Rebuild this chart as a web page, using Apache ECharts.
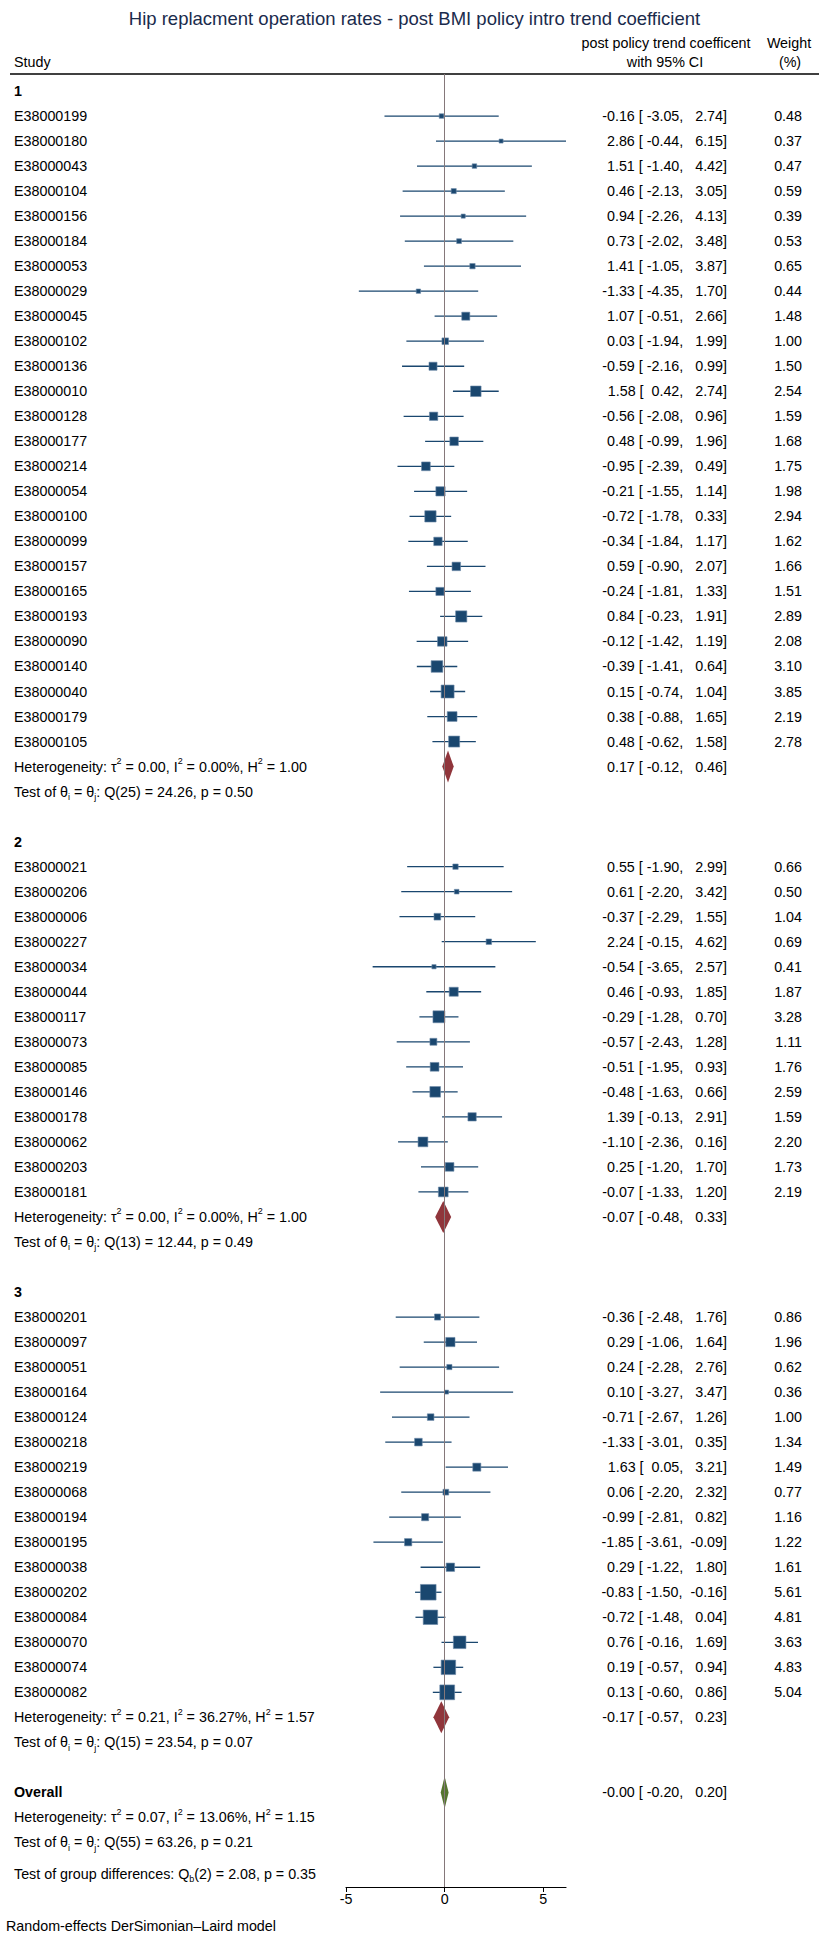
<!DOCTYPE html>
<html>
<head>
<meta charset="utf-8">
<script src="https://cdn.jsdelivr.net/npm/echarts@6/dist/echarts.min.js"></script>
<style>
  html, body { margin: 0; padding: 0; background: #fff; }
  #chart { width: 829px; height: 1938px; }
</style>
</head>
<body>
<div id="chart"></div>
<script>
// ---- data ----
const names1 = ['E38000199','E38000180','E38000043','E38000104','E38000156','E38000184','E38000053','E38000029','E38000045','E38000102','E38000136','E38000010','E38000128','E38000177','E38000214','E38000054','E38000100','E38000099','E38000157','E38000165','E38000193','E38000090','E38000140','E38000040','E38000179','E38000105'];
const est1 = [-0.16, 2.86, 1.51, 0.46, 0.94, 0.73, 1.41, -1.33, 1.07, 0.03, -0.59, 1.58, -0.56, 0.48, -0.95, -0.21, -0.72, -0.34, 0.59, -0.24, 0.84, -0.12, -0.39, 0.15, 0.38, 0.48];
const lo1 = [-3.05, -0.44, -1.40, -2.13, -2.26, -2.02, -1.05, -4.35, -0.51, -1.94, -2.16, 0.42, -2.08, -0.99, -2.39, -1.55, -1.78, -1.84, -0.90, -1.81, -0.23, -1.42, -1.41, -0.74, -0.88, -0.62];
const hi1 = [2.74, 6.15, 4.42, 3.05, 4.13, 3.48, 3.87, 1.70, 2.66, 1.99, 0.99, 2.74, 0.96, 1.96, 0.49, 1.14, 0.33, 1.17, 2.07, 1.33, 1.91, 1.19, 0.64, 1.04, 1.65, 1.58];
const wt1 = [0.48, 0.37, 0.47, 0.59, 0.39, 0.53, 0.65, 0.44, 1.48, 1.00, 1.50, 2.54, 1.59, 1.68, 1.75, 1.98, 2.94, 1.62, 1.66, 1.51, 2.89, 2.08, 3.10, 3.85, 2.19, 2.78];

const names2 = ['E38000021','E38000206','E38000006','E38000227','E38000034','E38000044','E38000117','E38000073','E38000085','E38000146','E38000178','E38000062','E38000203','E38000181'];
const est2 = [0.55, 0.61, -0.37, 2.24, -0.54, 0.46, -0.29, -0.57, -0.51, -0.48, 1.39, -1.10, 0.25, -0.07];
const lo2 = [-1.90, -2.20, -2.29, -0.15, -3.65, -0.93, -1.28, -2.43, -1.95, -1.63, -0.13, -2.36, -1.20, -1.33];
const hi2 = [2.99, 3.42, 1.55, 4.62, 2.57, 1.85, 0.70, 1.28, 0.93, 0.66, 2.91, 0.16, 1.70, 1.20];
const wt2 = [0.66, 0.50, 1.04, 0.69, 0.41, 1.87, 3.28, 1.11, 1.76, 2.59, 1.59, 2.20, 1.73, 2.19];

const names3 = ['E38000201','E38000097','E38000051','E38000164','E38000124','E38000218','E38000219','E38000068','E38000194','E38000195','E38000038','E38000202','E38000084','E38000070','E38000074','E38000082'];
const est3 = [-0.36, 0.29, 0.24, 0.10, -0.71, -1.33, 1.63, 0.06, -0.99, -1.85, 0.29, -0.83, -0.72, 0.76, 0.19, 0.13];
const lo3 = [-2.48, -1.06, -2.28, -3.27, -2.67, -3.01, 0.05, -2.20, -2.81, -3.61, -1.22, -1.50, -1.48, -0.16, -0.57, -0.60];
const hi3 = [1.76, 1.64, 2.76, 3.47, 1.26, 0.35, 3.21, 2.32, 0.82, -0.09, 1.80, -0.16, 0.04, 1.69, 0.94, 0.86];
const wt3 = [0.86, 1.96, 0.62, 0.36, 1.00, 1.34, 1.49, 0.77, 1.16, 1.22, 1.61, 5.61, 4.81, 3.63, 4.83, 5.04];

// group summaries: 1, 2, 3
const groupLabels = ['1', '2', '3'];
const sumEst = [0.17, -0.07, -0.17];
const sumLo = [-0.12, -0.48, -0.57];
const sumHi = [0.46, 0.33, 0.23];
const hetTau2 = [0.00, 0.00, 0.21];
const hetI2 = [0.00, 0.00, 36.27];
const hetH2 = [1.00, 1.00, 1.57];
const testDf = [25, 13, 15];
const testQ = [24.26, 12.44, 23.54];
const testP = [0.50, 0.49, 0.07];

// overall
const overall = { est: -0.00, lo: -0.20, hi: 0.20, tau2: 0.07, i2: 13.06, h2: 1.15, df: 55, q: 63.26, p: 0.21 };
const groupDiff = { df: 2, q: 2.08, p: 0.35 };

const xTicks = [-5, 0, 5];

// ---- build rows ----
const f2 = v => (v < 0 || Object.is(v, -0)) ? '-' + Math.abs(v).toFixed(2) : v.toFixed(2);
const pad = (s, n) => s.padStart(n, '\u00a0');
const ciText = (e, l, h) => pad(f2(e), 5) + ' [' + pad(f2(l), 6) + ',\u00a0' + pad(f2(h), 6) + ']';
const hetText = (t, i, h) => 'Heterogeneity: \u03c4{sup|2} = ' + f2(t) + ', I{sup|2} = ' + f2(i) + '%, H{sup|2} = ' + f2(h);
const testText = (df, q, p) => 'Test of \u03b8{sub|i} = \u03b8{sub|j}: Q(' + df + ') = ' + f2(q) + ', p = ' + f2(p);

const groups = [
    { names: names1, est: est1, lo: lo1, hi: hi1, wt: wt1 },
    { names: names2, est: est2, lo: lo2, hi: hi2, wt: wt2 },
    { names: names3, est: est3, lo: lo3, hi: hi3, wt: wt3 }
];

let textRows = [];     // left text, ci text, weight text
let studyData = [];    // [est, lo, hi, wt, row]
let diamondData = [];  // [est, lo, hi, row, colour]
let r = 0;
groups.forEach((g, gi) => {
    textRows.push({ row: r, left: groupLabels[gi], bold: true });
    r++;
    g.names.forEach((n, i) => {
        textRows.push({ row: r, left: n, ci: ciText(g.est[i], g.lo[i], g.hi[i]), wt: f2(g.wt[i]) });
        studyData.push([g.est[i], g.lo[i], g.hi[i], g.wt[i], r]);
        r++;
    });
    textRows.push({ row: r, left: hetText(hetTau2[gi], hetI2[gi], hetH2[gi]), ci: ciText(sumEst[gi], sumLo[gi], sumHi[gi]) });
    diamondData.push([sumEst[gi], sumLo[gi], sumHi[gi], r, 0]);
    r++;
    textRows.push({ row: r, left: testText(testDf[gi], testQ[gi], testP[gi]) });
    r += 2;
});
textRows.push({ row: r, left: 'Overall', bold: true, ci: ciText(overall.est, overall.lo, overall.hi) });
diamondData.push([overall.est, overall.lo, overall.hi, r, 1]);
r++;
textRows.push({ row: r, left: hetText(overall.tau2, overall.i2, overall.h2) });
r++;
textRows.push({ row: r, left: testText(overall.df, overall.q, overall.p) });
r += 1.25;
textRows.push({ row: r, left: 'Test of group differences: Q{sub|b}(' + groupDiff.df + ') = ' + f2(groupDiff.q) + ', p = ' + f2(groupDiff.p) });

const FONT = "'Liberation Sans', Arial, Helvetica, sans-serif";
const FS = 14.3;
const NAVY = '#1a476f';
const diamondColours = ['#90353b', '#55752f'];
const richStyles = {
    sup: { fontSize: 9, fontFamily: FONT, fill: '#000', verticalAlign: 'top', lineHeight: 10 },
    sub: { fontSize: 9, fontFamily: FONT, fill: '#000', verticalAlign: 'bottom', lineHeight: 10 }
};
const headStyle = (txt) => ({ text: txt, font: FS + 'px ' + FONT, fill: '#000', align: 'center', verticalAlign: 'middle' });

let myChart = echarts.init(document.getElementById('chart'), null, { renderer: 'svg' });

let option = {
    animation: false,
    title: {
        text: 'Hip replacment operation rates - post BMI policy intro trend coefficient',
        left: 'center',
        top: 4,
        textStyle: { fontFamily: FONT, fontSize: 18.5, fontWeight: 'normal', color: '#1a2b4c' }
    },
    grid: {
        left: 346,
        right: 263,
        top: 74,
        bottom: 51
    },
    xAxis: {
        type: 'value',
        min: -5,
        max: 6.15,
        interval: 5,
        splitLine: { show: false },
        axisLine: { show: true, onZero: false, lineStyle: { color: '#000', width: 1.2 } },
        axisTick: { show: true, length: 5, customValues: xTicks, lineStyle: { color: '#000' } },
        axisLabel: { customValues: xTicks, color: '#000', fontFamily: FONT, fontSize: FS, margin: 5 }
    },
    yAxis: {
        type: 'value',
        inverse: true,
        min: -0.68,
        max: 71.78,
        show: false
    },
    graphic: [
        { type: 'text', x: 14, y: 62, style: { text: 'Study', font: FS + 'px ' + FONT, fill: '#000', verticalAlign: 'middle' } },
        { type: 'text', x: 666, y: 43, style: headStyle('post policy trend coefficent') },
        { type: 'text', x: 665, y: 62, style: headStyle('with 95% CI') },
        { type: 'text', x: 789, y: 43, style: headStyle('Weight') },
        { type: 'text', x: 790, y: 62, style: headStyle('(%)') },
        { type: 'line', shape: { x1: 10, y1: 74, x2: 819, y2: 74 }, style: { stroke: '#000', lineWidth: 1.5 } },
        { type: 'text', x: 6, y: 1926, style: { text: 'Random-effects DerSimonian\u2013Laird model', font: FS + 'px ' + FONT, fill: '#000', verticalAlign: 'middle' } }
    ],
    series: [
        {
            // no-effect line
            type: 'line',
            data: [],
            markLine: {
                silent: true,
                symbol: 'none',
                label: { show: false },
                lineStyle: { color: '#85787a', width: 1, type: 'solid' },
                data: [{ xAxis: 0 }]
            }
        },
        {
            // studies: CI line + weighted square
            type: 'custom',
            data: studyData,
            renderItem(params, api) {
                let row = api.value(4);
                let a = api.coord([api.value(1), row]);
                let b = api.coord([api.value(2), row]);
                let c = api.coord([api.value(0), row]);
                let side = 6.6 * Math.sqrt(api.value(3));
                return {
                    type: 'group',
                    children: [
                        { type: 'line', shape: { x1: a[0], y1: a[1], x2: b[0], y2: b[1] }, style: { stroke: NAVY, lineWidth: 1.3 } },
                        { type: 'rect', shape: { x: c[0] - side / 2, y: c[1] - side / 2, width: side, height: side }, style: { fill: NAVY, stroke: '#6d8aa8', lineWidth: 0.6 } }
                    ]
                };
            }
        },
        {
            // group + overall diamonds
            type: 'custom',
            data: diamondData,
            renderItem(params, api) {
                let row = api.value(3);
                let a = api.coord([api.value(1), row]);
                let b = api.coord([api.value(2), row]);
                let c = api.coord([api.value(0), row]);
                let h = 16;
                return {
                    type: 'polygon',
                    shape: { points: [a, [c[0], c[1] - h], b, [c[0], c[1] + h]] },
                    style: { fill: diamondColours[api.value(4)] }
                };
            }
        },
        {
            // text columns
            type: 'custom',
            data: textRows.map(d => [0, d.row]),
            renderItem(params, api) {
                let d = textRows[params.dataIndex];
                let y = api.coord([0, api.value(1)])[1];
                let kids = [{
                    type: 'text', x: 14, y: y,
                    style: { text: d.left, rich: richStyles, fontFamily: FONT, fontSize: FS, fontWeight: d.bold ? 'bold' : 'normal', fill: '#000', lineHeight: 20, align: 'left', verticalAlign: 'middle' }
                }];
                if (d.ci) kids.push({ type: 'text', x: 727, y: y, style: { text: d.ci, fontFamily: FONT, fontSize: FS, fill: '#000', align: 'right', verticalAlign: 'middle' } });
                if (d.wt) kids.push({ type: 'text', x: 802, y: y, style: { text: d.wt, fontFamily: FONT, fontSize: FS, fill: '#000', align: 'right', verticalAlign: 'middle' } });
                return { type: 'group', children: kids };
            }
        }
    ]
};

myChart.setOption(option);
</script>
</body>
</html>
